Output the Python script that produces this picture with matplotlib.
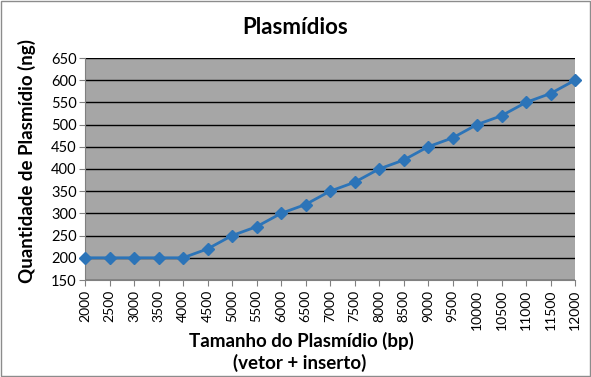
import matplotlib.pyplot as plt
from matplotlib.patches import Rectangle

plt.rcParams['font.family'] = ['Lato', 'DejaVu Sans']

tamanhos = ['2000', '2500', '3000', '3500', '4000', '4500', '5000', '5500', '6000', '6500',
            '7000', '7500', '8000', '8500', '9000', '9500', '10000', '10500', '11000',
            '11500', '12000']
quantidades = [200, 200, 200, 200, 200, 220, 250, 270, 300, 320, 350, 370, 400, 420,
               450, 470, 500, 520, 550, 570, 600]

W, H = 591, 377
fig = plt.figure(figsize=(W / 100, H / 100), dpi=100)
ax = fig.add_axes([85 / W, 1 - 280 / H, (575 - 85) / W, (280 - 58) / H])

x = list(range(len(tamanhos)))
ax.plot(x, quantidades, color='#2c74b8', lw=2, marker='D', markersize=6, zorder=3,
        clip_on=False)

ax.set_facecolor('#a6a6a6')
ax.set_xlim(0, len(tamanhos) - 1)
ax.set_ylim(150, 650)
ax.set_yticks(range(150, 651, 50))
ax.set_xticks(x)
ax.set_xticklabels(tamanhos, rotation=90, fontsize=10)
ax.tick_params(axis='y', labelsize=10.5, length=4, color='#808080', pad=2)
ax.tick_params(axis='x', length=4, color='#808080', pad=3)
ax.grid(axis='y', color='black', lw=1)
ax.set_axisbelow(True)
for s in ['top', 'right']:
    ax.spines[s].set_visible(False)
ax.spines['left'].set_color('#808080')
ax.spines['bottom'].set_color('#808080')

fig.text(295 / W, 1 - 27 / H, 'Plasmídios', fontsize=16, fontweight='bold',
         ha='center', va='center')
fig.text(27 / W, 1 - 161 / H, 'Quantidade de Plasmídio (ng)', fontsize=13.5,
         fontweight='bold', rotation=90, ha='center', va='center')
fig.text(301 / W, 1 - 341 / H, 'Tamanho do Plasmídio (bp)', fontsize=13.5,
         fontweight='bold', ha='center', va='center')
fig.text(300 / W, 1 - 363 / H, '(vetor + inserto)', fontsize=13.5,
         fontweight='bold', ha='center', va='center')

fig.patches.append(Rectangle((0.002, 0.003), 0.996, 0.994, transform=fig.transFigure,
                             fill=False, edgecolor='#8c8c8c', lw=1))

fig.savefig('out.png', dpi=100)
